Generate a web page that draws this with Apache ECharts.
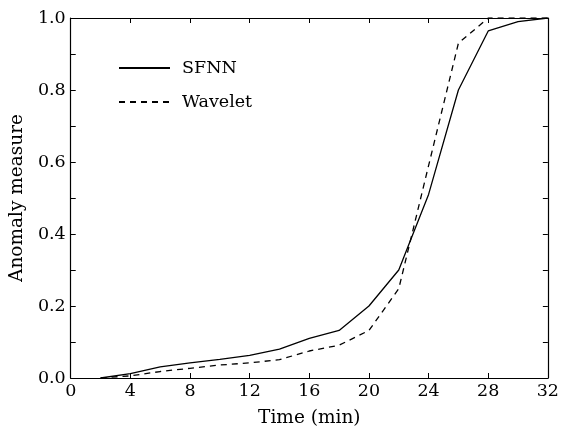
<!DOCTYPE html>
<html><head><meta charset="utf-8">
<script src="https://cdn.jsdelivr.net/npm/echarts@6/dist/echarts.min.js"></script>
<style>html,body{margin:0;padding:0;background:#fff}#c{width:562px;height:433px}</style>
</head><body><div id="c"></div>
<script>
const time = [2, 4, 6, 8, 10, 12, 14, 16, 18, 20, 22, 24, 26, 28, 30, 32];
const sfnn = [0, 0.012, 0.031, 0.042, 0.052, 0.063, 0.080, 0.110, 0.132, 0.200, 0.300, 0.510, 0.800, 0.964, 0.990, 1.0];
const wavelet = [0, 0.006, 0.018, 0.027, 0.036, 0.042, 0.051, 0.075, 0.091, 0.132, 0.248, 0.590, 0.930, 1.0, 1.0, 1.0];
const xTicks = [0, 4, 8, 12, 16, 20, 24, 28, 32];
const yTicks = [0.0, 0.2, 0.4, 0.6, 0.8, 1.0];

const font = 'DejaVu Serif';
const chart = echarts.init(document.getElementById('c'), null, {renderer: 'canvas'});
const axisLine = {show: true, onZero: false, lineStyle: {color: '#000', width: 1.2}};
chart.setOption({
  animation: false,
  backgroundColor: '#fff',
  grid: {left: 68, right: 9, top: 18, bottom: 53, containLabel: false},
  legend: {
    orient: 'vertical', left: 113, top: 54, itemWidth: 51, itemHeight: 14, itemGap: 16,
    itemStyle: {opacity: 0},
    textStyle: {fontFamily: font, fontSize: 17.5, color: '#000', padding: [0, 0, 0, 7]},
    data: ['SFNN', 'Wavelet'], selectedMode: false
  },
  xAxis: [{
    type: 'value', min: 0, max: 32, interval: 4, position: 'bottom',
    name: 'Time (min)', nameLocation: 'middle', nameGap: 31,
    nameTextStyle: {fontFamily: font, fontSize: 18.5, color: '#000'},
    axisLine: axisLine,
    axisTick: {show: true, inside: true, length: 5, lineStyle: {color: '#000'}},
    axisLabel: {fontFamily: font, fontSize: 17.5, color: '#000', margin: 4,
      formatter: v => xTicks.includes(v) ? String(v) : ''},
    splitLine: {show: false}
  }, {
    type: 'value', min: 0, max: 32, interval: 4, position: 'top',
    axisLine: axisLine,
    axisTick: {show: true, inside: true, length: 5, lineStyle: {color: '#000'}},
    axisLabel: {show: false}, splitLine: {show: false}
  }],
  yAxis: [{
    type: 'value', min: 0, max: 1, interval: 0.2, position: 'left',
    name: 'Anomaly measure', nameLocation: 'middle', nameGap: 40, nameRotate: 90,
    nameTextStyle: {fontFamily: font, fontSize: 18.5, color: '#000'},
    axisLine: axisLine,
    axisTick: {show: true, inside: true, length: 5, lineStyle: {color: '#000'}},
    minorTick: {show: true, splitNumber: 2, length: 5, lineStyle: {color: '#000'}},
    axisLabel: {fontFamily: font, fontSize: 17.5, color: '#000', margin: 5,
      formatter: v => { const t = yTicks.find(a => Math.abs(a - v) < 1e-6); return t === undefined ? '' : t.toFixed(1); }},
    splitLine: {show: false}
  }, {
    type: 'value', min: 0, max: 1, interval: 0.2, position: 'right',
    axisLine: axisLine,
    axisTick: {show: true, inside: true, length: 5, lineStyle: {color: '#000'}},
    minorTick: {show: true, splitNumber: 2, length: 5, lineStyle: {color: '#000'}},
    axisLabel: {show: false}, splitLine: {show: false}
  }],
  series: [{
    name: 'SFNN', type: 'line', symbol: 'none', color: '#000',
    lineStyle: {color: '#000', width: 1.3, type: 'solid'},
    data: time.map((t, i) => [t, sfnn[i]])
  }, {
    name: 'Wavelet', type: 'line', symbol: 'none', color: '#000',
    lineStyle: {color: '#000', width: 1.3, type: [6, 5]},
    data: time.map((t, i) => [t, wavelet[i]])
  }]
});
</script></body></html>
